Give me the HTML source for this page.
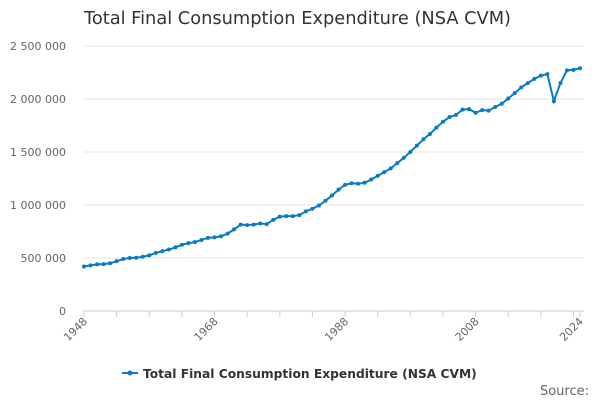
<!DOCTYPE html>
<html><head><meta charset="utf-8"><style>
body{margin:0;background:#fff;font-family:"DejaVu Sans",sans-serif}
svg text{font-family:"DejaVu Sans",sans-serif}
</style></head><body>
<svg width="600" height="400">
<text x="84" y="24" font-size="17.8" fill="#333">Total Final Consumption Expenditure (NSA CVM)</text>
<g id="grid"></g><g id="xaxis"></g><g id="series"></g>
<g>
<line x1="122" y1="373" x2="138" y2="373" stroke="#0a7bc1" stroke-width="2"/>
<circle cx="130" cy="373" r="2.5" fill="#0a7bc1"/>
<text x="143" y="378" font-size="12.25" font-weight="bold" fill="#333">Total Final Consumption Expenditure (NSA CVM)</text>
</g>
<text x="589" y="395" font-size="13" fill="#666" text-anchor="end">Source:</text>
</svg>
<script>
const years=[];for(let y=1948;y<=2024;y++)years.push(y);
const values=[420,430,440,442,450,470,490,500,502,512,525,548,565,580,600,625,640,650,670,690,695,705,730,770,815,810,815,825,820,860,890,895,895,905,940,965,995,1040,1090,1145,1190,1205,1200,1210,1240,1275,1310,1345,1395,1445,1500,1560,1620,1670,1730,1785,1830,1850,1900,1905,1870,1895,1890,1925,1955,2005,2055,2110,2150,2190,2220,2235,1980,2150,2270,2275,2290].map(v=>v*1000);
const yTicks=[0,500000,1000000,1500000,2000000,2500000];
const yLabels=["0","500 000","1 000 000","1 500 000","2 000 000","2 500 000"];
const xLabels=[1948,1968,1988,2008,2024];
const NS="http://www.w3.org/2000/svg";
const X=y=>84+(y-1948)*(580-84)/76;
const Y=v=>311-v*(311-46)/2500000;
function el(t,a,p){const e=document.createElementNS(NS,t);for(const k in a)e.setAttribute(k,a[k]);p.appendChild(e);return e;}
const g=document.getElementById('grid');
yTicks.forEach((t,i)=>{
 const l=el('line',{x1:84,x2:584,y1:Y(t),y2:Y(t),stroke:i==0?'#ccc':'#e6e6e6'},g);
 
 
 const tx=el('text',{x:66,y:Y(t)+4,'font-size':11,fill:'#666','text-anchor':'end'},g);tx.textContent=yLabels[i];
 
 
});
const xa=document.getElementById('xaxis');
for(let y=1948;y<=2024;y+=5){el('line',{x1:X(y),x2:X(y),y1:311,y2:317,stroke:'#ccc'},xa);}
el('line',{x1:X(2024),x2:X(2024),y1:311,y2:317,stroke:'#ccc'},xa);
xLabels.forEach(y=>{
 const tx=el('text',{x:X(y)+4,y:322,'font-size':11,fill:'#666','text-anchor':'end',transform:`rotate(-45 ${X(y)+4} 322)`},xa);tx.textContent=y;
 
 
});
const s=document.getElementById('series');
const p=el('polyline',{points:years.map((y,i)=>X(y)+','+Y(values[i])).join(' '),fill:'none',stroke:'#0a7bc1','stroke-width':2},s);


years.forEach((y,i)=>{
 const c=el('circle',{cx:X(y),cy:Y(values[i]),r:2,fill:'#0a7bc1'},s);
 
 
});
</script>
</body></html>
